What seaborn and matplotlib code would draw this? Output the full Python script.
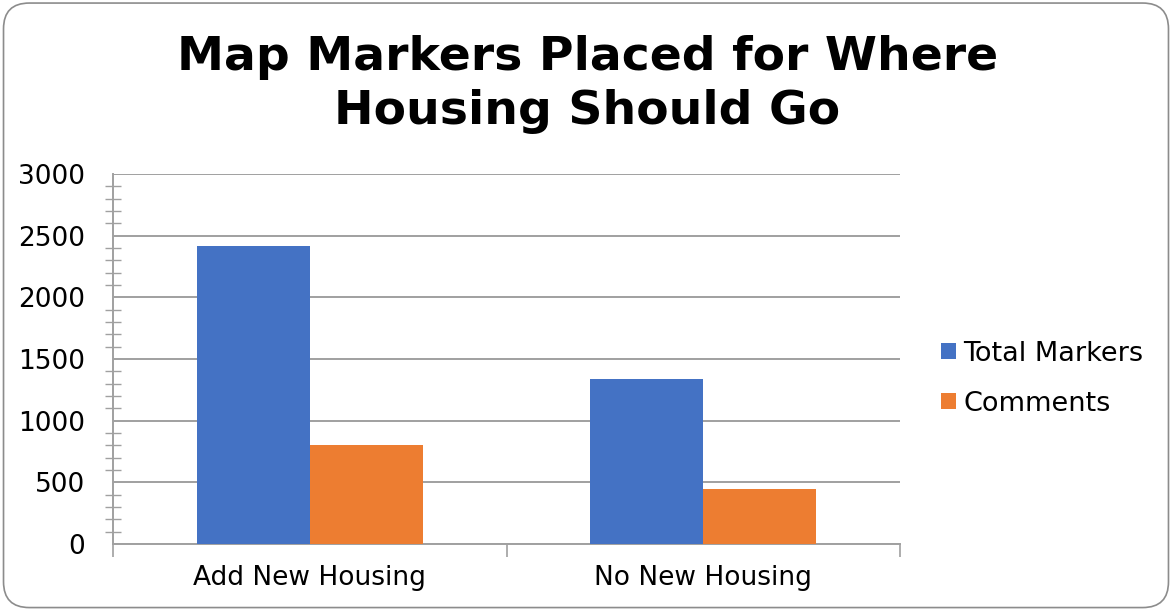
import matplotlib
matplotlib.use("Agg")
import matplotlib.pyplot as plt
from matplotlib.patches import FancyBboxPatch
from matplotlib.ticker import MultipleLocator, FixedLocator
import seaborn as sns
import pandas as pd

categories = ["Add New Housing", "No New Housing"]
series_names = ["Total Markers", "Comments"]
total_markers = [2415, 1340]
comments = [800, 445]
colors = ["#4472C4", "#ED7D31"]
title = "Map Markers Placed for Where\nHousing Should Go"

df = pd.DataFrame({
    "category": categories * 2,
    "series": [series_names[0]] * 2 + [series_names[1]] * 2,
    "value": total_markers + comments,
})

sns.set_theme(style="white")
plt.rcParams["font.family"] = ["DejaVu Sans"]
plt.rcParams["text.color"] = "black"

fig = plt.figure(figsize=(11.72, 6.10), dpi=100)
ax = fig.add_axes([0.0964, 0.1082, 0.6717, 0.6066])

sns.barplot(data=df, x="category", y="value", hue="series", palette=colors,
            width=0.574, gap=0, saturation=1, linewidth=0, ax=ax,
            legend=True, zorder=3)

grid_color = "#a0a0a0"
ax.set_ylim(0, 3000)
ax.set_xlim(-0.5, 1.5)
ax.yaxis.set_major_locator(MultipleLocator(500))
ax.yaxis.set_minor_locator(MultipleLocator(100))
ax.xaxis.set_minor_locator(FixedLocator([-0.5, 0.5, 1.5]))
ax.grid(axis="y", which="major", color=grid_color, linewidth=1.4, zorder=0)
ax.set_axisbelow(True)

for side in ["top", "right"]:
    ax.spines[side].set_visible(False)
for side in ["left", "bottom"]:
    ax.spines[side].set_color(grid_color)
    ax.spines[side].set_linewidth(1.4)

ax.tick_params(axis="y", which="major", direction="out", length=9, width=1.2,
               color=grid_color, labelsize=19, labelcolor="black", pad=11)
ax.tick_params(axis="y", which="minor", direction="inout", length=11, width=1.0,
               color=grid_color, left=True)
ax.tick_params(axis="x", which="major", length=0, labelsize=19,
               labelcolor="black", pad=15)
ax.tick_params(axis="x", which="minor", direction="out", length=9, width=1.2,
               color=grid_color, bottom=True)
ax.set_xlabel("")
ax.set_ylabel("")

handles, labels = ax.get_legend_handles_labels()
ax.legend(handles, labels, loc="center left", bbox_to_anchor=(0.794, 0.379),
          bbox_transform=fig.transFigure, frameon=False, fontsize=19.5,
          handlelength=0.55, handleheight=0.55, handletextpad=0.25,
          labelspacing=0.88, borderaxespad=0, labelcolor="black")

fig.text(0.501, 0.861, title, ha="center", va="center", fontsize=34,
         fontweight="heavy", linespacing=1.25, color="black")

# rounded chart-area border
border = FancyBboxPatch((0.003, 0.004), 0.994, 0.991,
                        boxstyle="round,pad=0,rounding_size=0.022",
                        transform=fig.transFigure, facecolor="none",
                        edgecolor="#8c8c8c", linewidth=1.2,
                        mutation_aspect=11.72 / 6.10)
fig.patches.append(border)

fig.savefig("out.png", dpi=100, facecolor="white")
